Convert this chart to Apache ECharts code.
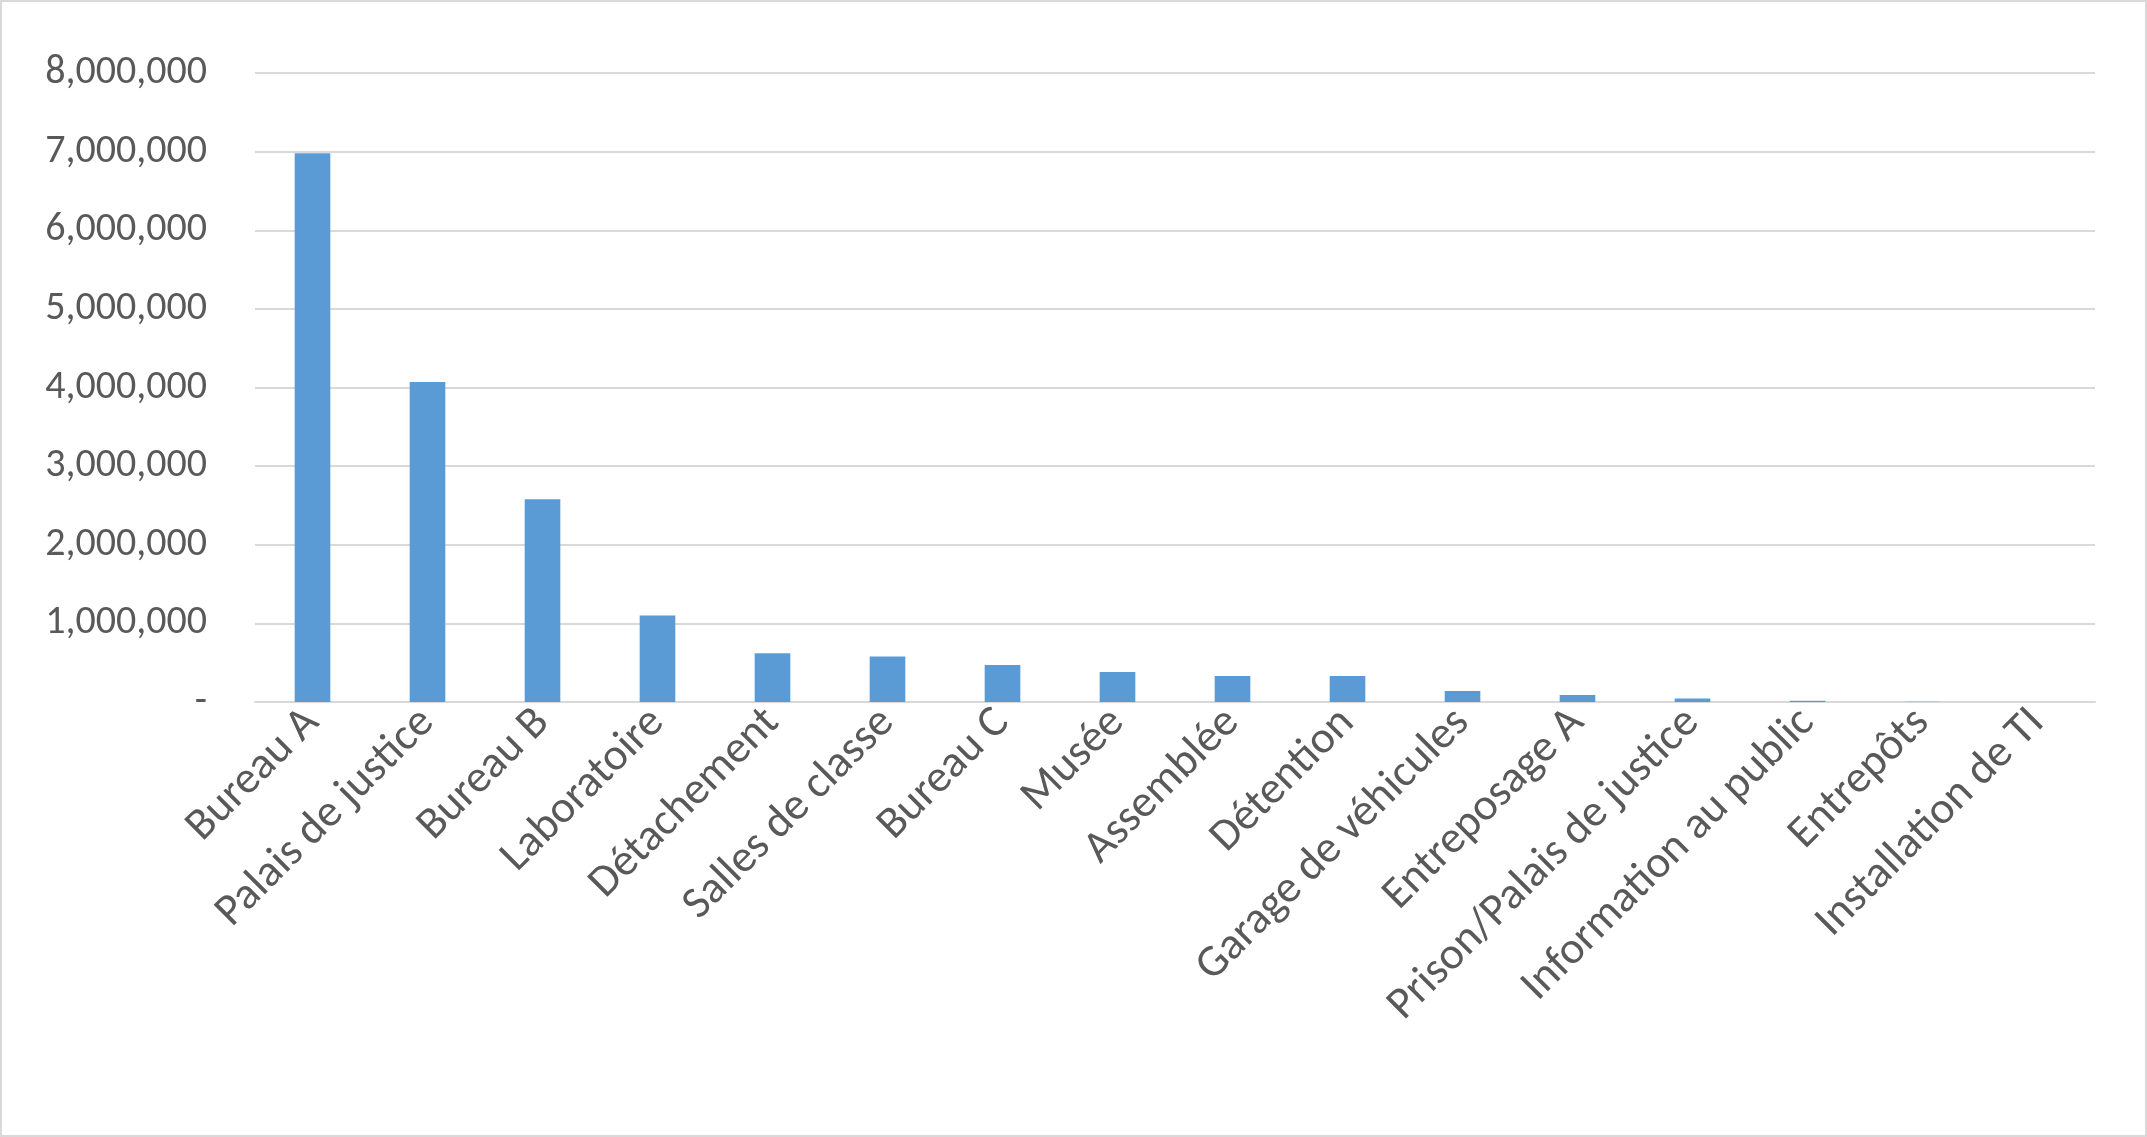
<!DOCTYPE html>
<html><head><meta charset="utf-8">
<script src="https://cdn.jsdelivr.net/npm/echarts@6/dist/echarts.min.js"></script>
<style>html,body{margin:0;padding:0;background:#fff}#c{width:2147px;height:1137px;box-sizing:border-box;border:2px solid #d9d9d9}</style>
</head><body><div id="c"></div>
<script>
const categories = ["Bureau A","Palais de justice","Bureau B","Laboratoire","Détachement","Salles de classe","Bureau C","Musée","Assemblée","Détention","Garage de véhicules","Entreposage A","Prison/Palais de justice","Information au public","Entrepôts","Installation de TI"];
const values = [6980000,4070000,2580000,1100000,620000,580000,470000,380000,330000,330000,140000,90000,45000,15000,2000,1000];
const chart = echarts.init(document.getElementById('c'));
chart.setOption({
  animation:false,
  grid:{left:253,right:50,top:71,bottom:433,containLabel:false},
  xAxis:{type:'category',data:categories,
    axisLine:{lineStyle:{color:'#d9d9d9',width:2}},axisTick:{show:false},
    axisLabel:{rotate:45,interval:0,color:'#595959',fontSize:45,fontFamily:'Calibri, Carlito, Lato, sans-serif',margin:14}},
  yAxis:{type:'value',min:0,max:8000000,interval:1000000,
    axisLine:{show:false},axisTick:{show:false},
    splitLine:{lineStyle:{color:'#d9d9d9',width:2}},
    axisLabel:{color:'#595959',fontSize:40,fontFamily:'Calibri, Carlito, Lato, sans-serif',margin:48,
      formatter:v=>v===0?'-':v.toLocaleString('en-US')}},
  series:[{type:'bar',data:values,barWidth:'31%',itemStyle:{color:'#5b9bd5'}}]
});
</script></body></html>
